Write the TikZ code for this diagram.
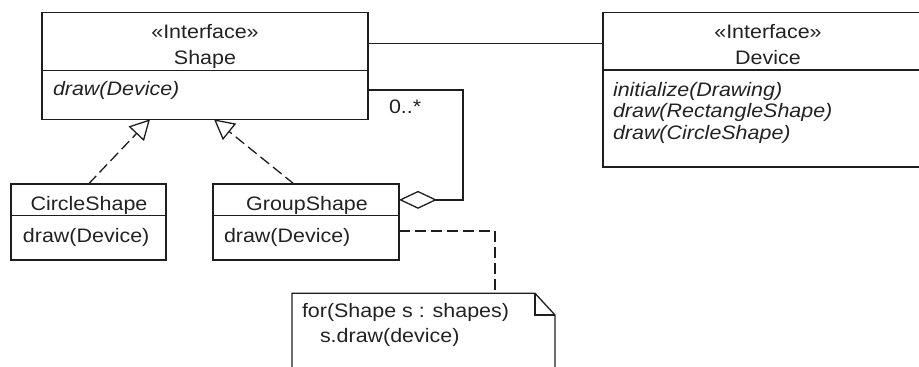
\documentclass[tikz,border=0pt]{standalone}
\usepackage{fontspec}
\setmainfont{Liberation Sans}[FakeStretch=1.1]
\usetikzlibrary{arrows.meta,calc}
\definecolor{umlline}{HTML}{1E1E1E}
\definecolor{umlink}{HTML}{222222}
\newcommand\umltext{\fontsize{19.5pt}{24pt}\selectfont}
\tikzset{
  compartment/.style={draw=umlline, line width=1.3pt, rectangle, anchor=north west,
    inner sep=0pt, outer sep=0pt},
  lbl/.style={inner sep=0pt, outer sep=0pt, text=umlink, font=\umltext},
  conn/.style={draw=umlline, line width=1.3pt},
  dashconn/.style={conn, dash pattern=on 11pt off 5pt},
  realize/.style={dashconn, -{Triangle[open, length=20pt, width=21pt, line width=1.3pt]}},
  aggregate/.style={conn, {Diamond[open, length=38pt, width=18pt, line width=1.3pt]}-},
}
\begin{document}
\begin{tikzpicture}[x=1pt, y=-1pt]
\useasboundingbox (0,0) rectangle (919,367);

% interface Shape
\node[compartment, minimum width=326pt, minimum height=58pt] (shapeHead) at (42,12.7) {};
\node[compartment, minimum width=326pt, minimum height=48.6pt] (shapeOps) at (42,70.7) {};
\node[lbl, anchor=base] (shapeSt) at (205,38) {«Interface»};
\node[lbl, anchor=base] (shapeName) at (205,64.5) {Shape};
\node[lbl, anchor=base west] (shapeDraw) at (53,95.5) {\itshape draw(Device)};

% interface Device
\node[compartment, minimum width=340pt, minimum height=57.3pt] (devHead) at (603,12.7) {};
\node[compartment, minimum width=340pt, minimum height=97pt] (devOps) at (603,70) {};
\node[lbl, anchor=base] (devSt) at (768,38) {«Interface»};
\node[lbl, anchor=base] (devName) at (768,64.5) {Device};
\node[lbl, anchor=base west] (devInit) at (613,96) {\itshape initialize(Drawing)};
\node[lbl, anchor=base west] (devRect) at (613,117.7) {\itshape draw(RectangleShape)};
\node[lbl, anchor=base west] (devCirc) at (613,139.4) {\itshape draw(CircleShape)};

% class CircleShape
\node[compartment, minimum width=155pt, minimum height=31.7pt] (circHead) at (11,184) {};
\node[compartment, minimum width=155pt, minimum height=44.3pt] (circOps) at (11,215.7) {};
\node[lbl, anchor=base] (circName) at (89,210.7) {CircleShape};
\node[lbl, anchor=base west] (circDraw) at (23,242.3) {draw(Device)};

% class GroupShape
\node[compartment, minimum width=186pt, minimum height=31.7pt] (grpHead) at (213,184) {};
\node[compartment, minimum width=186pt, minimum height=44.3pt] (grpOps) at (213,215.7) {};
\node[lbl, anchor=base] (grpName) at (307,210.7) {GroupShape};
\node[lbl, anchor=base west] (grpDraw) at (224,242.3) {draw(Device)};

% note attached to GroupShape.draw
\node[rectangle, anchor=north west, inner sep=0pt, outer sep=0pt,
      minimum width=263pt, minimum height=90pt] (note) at (292,293.3) {};
\draw[conn] (note.south west) -- (note.north west) -- ([xshift=-20]note.north east)
  -- ([yshift=-21.7]note.north east) -- (note.south east);
\draw[conn] ([xshift=-20]note.north east) -- ([xshift=-20,yshift=-21.7]note.north east)
  -- ([yshift=-21.7]note.north east);
\node[lbl, anchor=base west] (noteL1) at (302,317.5) {for(Shape s : shapes)};
\node[lbl, anchor=base west] (noteL2) at (320,342.3) {s.draw(device)};

% association Shape -- Device
\draw[conn] ([yshift=-1.5]shapeHead.east) -- ([yshift=-1.5]shapeHead.east -| devHead.west);

% aggregation GroupShape <>-- Shape
\draw[aggregate] (grpHead.east) -- ++(64,0) |- ([yshift=5]shapeOps.east);
\node[lbl, anchor=base west] (mult) at (389,113) {0..*};

% realizations
\draw[realize] (circHead.north) -- ([xshift=-55]shapeOps.south);
\draw[realize] ([xshift=-12]grpHead.north) -- ([xshift=9]shapeOps.south);

% note anchor line
\draw[dashconn] ([yshift=7]grpOps.east) -| ([xshift=71.5]note.north);
\end{tikzpicture}
\end{document}
